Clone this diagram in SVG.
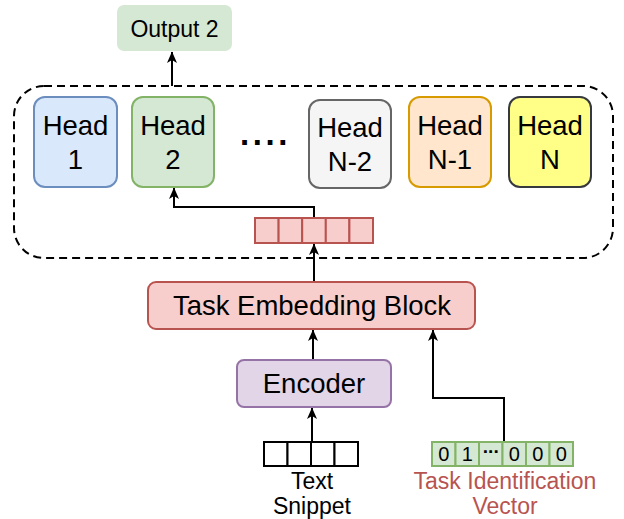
<svg xmlns="http://www.w3.org/2000/svg" width="624" height="519" viewBox="0 0 624 519">
  <defs>
    <marker id="arrow" markerWidth="12" markerHeight="11" refX="11" refY="5.5" orient="auto" markerUnits="userSpaceOnUse">
      <path d="M0,0.5 L11.5,5.5 L0,10.5 L3,5.5 Z" fill="#000"/>
    </marker>
    <style>
      text { font-family: "Liberation Sans", Arial, sans-serif; fill: #000; text-anchor: middle; }
      .head { font-size: 27.5px; }
      .big { font-size: 27.5px; }
      .lbl { font-size: 23px; }
      .red { fill: #b85450; }
      .digit { font-size: 20px; }
      .wire { fill: none; stroke: #000; stroke-width: 2; marker-end: url(#arrow); }
      .cellR { fill: #f8cecc; stroke: #b85450; stroke-width: 2; }
      .cellG { fill: #d5e8d4; stroke: #82b366; stroke-width: 2; }
      .cellW { fill: #fff; stroke: #000; stroke-width: 2; }
    </style>
  </defs>

  <rect width="624" height="519" fill="#fff"/>

  <!-- dashed frame around the task heads -->
  <rect id="heads-frame" x="14" y="86" width="599" height="172" rx="30" fill="none" stroke="#000" stroke-width="2" stroke-dasharray="8 5"/>

  <g id="connectors">
    <line class="wire" x1="172" y1="86" x2="172" y2="52"/>
    <polyline class="wire" points="314,218 314,207 174,207 174,188"/>
    <line class="wire" x1="314" y1="282" x2="314" y2="244"/>
    <line class="wire" x1="313" y1="360" x2="313" y2="330"/>
    <line class="wire" x1="312" y1="442" x2="312" y2="408"/>
    <polyline class="wire" points="504,442 504,398 433,398 433,330"/>
  </g>

  <g id="output-2">
    <rect x="117" y="5" width="115" height="46" rx="7" fill="#d5e8d4"/>
    <text class="lbl" x="174.5" y="37">Output 2</text>
  </g>

  <g id="head-1">
    <rect x="34" y="97" width="83" height="90" rx="11" fill="#dae8fc" stroke="#6c8ebf" stroke-width="2"/>
    <text class="head" x="75.5" y="135">Head</text>
    <text class="head" x="75.5" y="169">1</text>
  </g>
  <g id="head-2">
    <rect x="132" y="97" width="82" height="90" rx="11" fill="#d5e8d4" stroke="#82b366" stroke-width="2"/>
    <text class="head" x="173" y="135">Head</text>
    <text class="head" x="173" y="169">2</text>
  </g>
  <g id="ellipsis">
    <text x="240" y="145" style="font-size:33px;font-weight:bold;letter-spacing:3.6px;text-anchor:start">....</text>
  </g>
  <g id="head-n-2">
    <rect x="309" y="100" width="82" height="88" rx="11" fill="#f5f5f5" stroke="#666666" stroke-width="2"/>
    <text class="head" x="350" y="137">Head</text>
    <text class="head" x="350" y="171">N-2</text>
  </g>
  <g id="head-n-1">
    <rect x="409" y="97" width="82" height="90" rx="11" fill="#ffe6cc" stroke="#d79b00" stroke-width="2"/>
    <text class="head" x="450" y="135">Head</text>
    <text class="head" x="450" y="169">N-1</text>
  </g>
  <g id="head-n">
    <rect x="509" y="97" width="82" height="90" rx="11" fill="#ffff88" stroke="#36393d" stroke-width="2"/>
    <text class="head" x="550" y="135">Head</text>
    <text class="head" x="550" y="169">N</text>
  </g>

  <g id="task-embedding-vector">
    <rect class="cellR" x="255" y="218" width="23.6" height="25"/>
    <rect class="cellR" x="278.6" y="218" width="23.6" height="25"/>
    <rect class="cellR" x="302.2" y="218" width="23.6" height="25"/>
    <rect class="cellR" x="325.8" y="218" width="23.6" height="25"/>
    <rect class="cellR" x="349.4" y="218" width="23.6" height="25"/>
  </g>

  <g id="task-embedding-block">
    <rect x="148" y="282" width="327" height="47" rx="8" fill="#f8cecc" stroke="#b85450" stroke-width="2"/>
    <text class="big" x="312" y="315">Task Embedding Block</text>
  </g>

  <g id="encoder">
    <rect x="237" y="360" width="154" height="47" rx="7" fill="#e1d5e7" stroke="#9673a6" stroke-width="2"/>
    <text class="big" x="314" y="393">Encoder</text>
  </g>

  <g id="text-snippet">
    <rect class="cellW" x="264" y="442" width="23.5" height="24"/>
    <rect class="cellW" x="287.5" y="442" width="23.5" height="24"/>
    <rect class="cellW" x="311" y="442" width="23.5" height="24"/>
    <rect class="cellW" x="334.5" y="442" width="23.5" height="24"/>
    <text class="lbl" x="312" y="489">Text</text>
    <text class="lbl" x="312" y="514">Snippet</text>
  </g>

  <g id="task-identification-vector">
    <rect class="cellG" x="432" y="442" width="23.5" height="24"/>
    <rect class="cellG" x="455.5" y="442" width="23.5" height="24"/>
    <rect class="cellG" x="479" y="442" width="23.5" height="24"/>
    <rect class="cellG" x="502.5" y="442" width="23.5" height="24"/>
    <rect class="cellG" x="526" y="442" width="23.5" height="24"/>
    <rect class="cellG" x="549.5" y="442" width="23.5" height="24"/>
    <text class="digit" x="443.8" y="461">0</text>
    <text class="digit" x="467.3" y="461">1</text>
    <text x="490.8" y="458" style="font-size:19px;font-weight:bold;letter-spacing:-1px">···</text>
    <text class="digit" x="514.3" y="461">0</text>
    <text class="digit" x="537.8" y="461">0</text>
    <text class="digit" x="561.3" y="461">0</text>
    <text class="lbl red" x="505" y="489">Task Identification</text>
    <text class="lbl red" x="505" y="514">Vector</text>
  </g>
</svg>
